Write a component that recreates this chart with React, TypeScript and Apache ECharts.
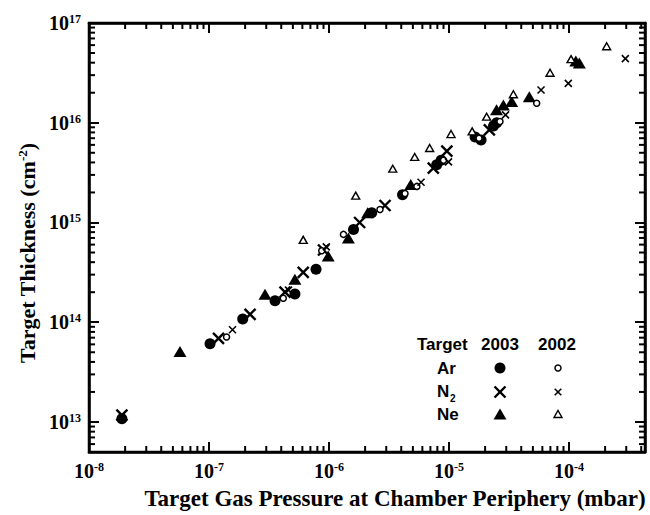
import React, { useEffect, useRef } from 'react';
import * as echarts from 'echarts';

// Axis ranges
const X_MIN = 1e-8;
const X_MAX = 4.3e-4;
const Y_MIN = 5e12;
const Y_MAX = 1e17;

// [pressure (mbar), thickness (cm^-2)]
const ar2003: [number, number][] = [
  [1.88e-8, 1.08e13], [1.02e-7, 6.1e13], [1.91e-7, 1.08e14], [3.55e-7, 1.64e14],
  [5.2e-7, 1.92e14], [7.8e-7, 3.4e14], [1.6e-6, 8.5e14], [2.27e-6, 1.25e15],
  [4.1e-6, 1.9e15], [7.9e-6, 3.8e15], [8.6e-6, 4.2e15], [1.65e-5, 7.2e15],
  [1.85e-5, 6.7e15], [2.35e-5, 9.3e15], [2.5e-5, 1.0e16],
];
const ar2002: [number, number][] = [
  [1.4e-7, 7.1e13], [4.16e-7, 1.74e14], [8.7e-7, 5.2e14], [1.32e-6, 7.6e14],
  [2.66e-6, 1.35e15], [4.3e-6, 1.95e15], [5.4e-6, 2.3e15], [9.0e-6, 4.2e15],
  [1.78e-5, 7.0e15], [2.66e-5, 1.03e16], [5.38e-5, 1.57e16],
];
const n22003: [number, number][] = [
  [1.88e-8, 1.17e13], [1.2e-7, 6.9e13], [2.2e-7, 1.2e14], [4.3e-7, 2.0e14],
  [6.1e-7, 3.16e14], [9.0e-7, 5.3e14], [1.8e-6, 1.0e15], [2.93e-6, 1.48e15],
  [7.4e-6, 3.5e15], [9.6e-6, 5.2e15], [2.17e-5, 8.5e15],
];
const n22002: [number, number][] = [
  [1.57e-7, 8.4e13], [4.6e-7, 2.1e14], [9.5e-7, 5.7e14], [5.85e-6, 2.53e15],
  [9.9e-6, 4.05e15], [2.96e-5, 1.2e16], [5.85e-5, 2.13e16], [9.87e-5, 2.48e16],
  [2.95e-4, 4.4e16],
];
const ne2003: [number, number][] = [
  [5.73e-8, 5.1e13], [2.93e-7, 1.91e14], [5.2e-7, 2.7e14], [9.85e-7, 4.6e14],
  [1.45e-6, 7.0e14], [2.1e-6, 1.25e15], [4.8e-6, 2.4e15], [2.49e-5, 1.35e16],
  [2.84e-5, 1.51e16], [3.33e-5, 1.63e16], [4.67e-5, 1.82e16], [1.14e-4, 4.17e16],
  [1.22e-4, 3.98e16],
];
const ne2002: [number, number][] = [
  [6.1e-7, 6.7e14], [1.67e-6, 1.86e15], [3.4e-6, 3.46e15], [5.18e-6, 4.54e15],
  [6.9e-6, 5.58e15], [1.04e-5, 7.7e15], [1.56e-5, 8.2e15], [2.06e-5, 1.15e16],
  [3.44e-5, 1.93e16], [6.95e-5, 3.17e16], [1.04e-4, 4.34e16], [2.06e-4, 5.85e16],
];

const X_DECADES = [-8, -7, -6, -5, -4];
const Y_DECADES = [12, 13, 14, 15, 16];
const MINOR_MULTS = [2, 3, 4, 5, 6, 7, 8, 9];

const SERIF = '"Liberation Serif", "Times New Roman", serif';
const SANS = '"Liberation Sans", Arial, sans-serif';

function powLabel(v: number): string {
  const l = Math.log10(v);
  const r = Math.round(l);
  if (Math.abs(l - r) > 1e-6) return '';
  return '{b|10}{s|' + r + '}';
}

const labelRich = {
  b: { fontSize: 20, fontWeight: 'bold', fontFamily: SERIF, color: '#000' },
  s: { fontSize: 12, fontWeight: 'bold', fontFamily: SERIF, color: '#000', verticalAlign: 'top' },
};

const majorTick = { show: true, inside: true, length: 10, lineStyle: { color: '#000', width: 2 } };
const frameLine = { show: true, onZero: false, lineStyle: { color: '#000', width: 2.5 } };

const XPATH = 'path://M0,0L12,12M12,0L0,12';

const GRID = { left: 89, right: 5, top: 23, bottom: 63 };

export default function App() {
  const ref = useRef<HTMLDivElement>(null);
  useEffect(() => {
    if (!ref.current) return;
    const chart = echarts.init(ref.current, undefined, { renderer: 'svg' });
    const legendFont = 'bold 17px ' + SANS;
    const xBase = {
      type: 'log', logBase: 10, min: X_MIN, max: X_MAX,
      axisLine: frameLine, splitLine: { show: false }, axisTick: majorTick,
    };
    const yBase = {
      type: 'log', logBase: 10, min: Y_MIN, max: Y_MAX,
      axisLine: frameLine, splitLine: { show: false }, axisTick: majorTick,
    };
    const option: any = {
      animation: false,
      backgroundColor: '#fff',
      grid: { ...GRID, show: false },
      xAxis: [
        { ...xBase, position: 'bottom', axisLabel: { formatter: powLabel, rich: labelRich, margin: 9 } },
        { ...xBase, position: 'top', axisLabel: { show: false } },
      ],
      yAxis: [
        { ...yBase, position: 'left', axisLabel: { formatter: powLabel, rich: labelRich, margin: 8 } },
        { ...yBase, position: 'right', axisLabel: { show: false } },
      ],
      series: [
        {
          name: 'N2 2003', type: 'scatter', data: n22003, symbol: XPATH, symbolSize: 11,
          itemStyle: { color: '#000', borderColor: '#000', borderWidth: 2.4, opacity: 1 },
        },
        {
          name: 'Ne 2003', type: 'scatter', data: ne2003, symbol: 'triangle', symbolSize: [13, 11],
          itemStyle: { color: '#000', opacity: 1 },
        },
        {
          name: 'Ar 2003', type: 'scatter', data: ar2003, symbol: 'circle', symbolSize: 11,
          itemStyle: { color: '#000', opacity: 1 },
        },
        {
          name: 'Ar 2002', type: 'scatter', data: ar2002, symbol: 'circle', symbolSize: 6,
          itemStyle: { color: '#fff', borderColor: '#000', borderWidth: 1.5, opacity: 1 },
        },
        {
          name: 'N2 2002', type: 'scatter', data: n22002, symbol: XPATH, symbolSize: 7,
          itemStyle: { color: '#000', borderColor: '#000', borderWidth: 1.6, opacity: 1 },
        },
        {
          name: 'Ne 2002', type: 'scatter', data: ne2002, symbol: 'triangle', symbolSize: [8, 7],
          itemStyle: { color: '#fff', borderColor: '#000', borderWidth: 1.4, opacity: 1 },
        },
      ],
    };
    chart.setOption(option);

    // plot frame and minor ticks (2..9 x 10^n), positions from the chart's own log axes
    const rect = { x: GRID.left, y: GRID.top, w: 650 - GRID.left - GRID.right, h: 515 - GRID.top - GRID.bottom };
    const minor: any[] = [];
    const len = 6;
    for (const e of X_DECADES) {
      for (const m of MINOR_MULTS) {
        const v = m * Math.pow(10, e);
        if (v >= X_MAX) continue;
        const px = Number(chart.convertToPixel({ xAxisIndex: 0 } as any, v));
        if (!isFinite(px)) continue;
        minor.push({ type: 'rect', z: 100, shape: { x: px - 1, y: rect.y + rect.h - len, width: 2, height: len }, style: { fill: '#000' } });
        minor.push({ type: 'rect', z: 100, shape: { x: px - 1, y: rect.y, width: 2, height: len }, style: { fill: '#000' } });
      }
    }
    for (const e of Y_DECADES) {
      for (const m of MINOR_MULTS) {
        const v = m * Math.pow(10, e);
        if (v <= Y_MIN || v >= Y_MAX) continue;
        const py = Number(chart.convertToPixel({ yAxisIndex: 0 } as any, v));
        if (!isFinite(py)) continue;
        minor.push({ type: 'rect', z: 100, shape: { x: rect.x, y: py - 1, width: len, height: 2 }, style: { fill: '#000' } });
        minor.push({ type: 'rect', z: 100, shape: { x: rect.x + rect.w - len, y: py - 1, width: len, height: 2 }, style: { fill: '#000' } });
      }
    }

    const graphics: any[] = [
      {
        type: 'rect', z: 100, silent: true,
        shape: { x: rect.x, y: rect.y, width: rect.w, height: rect.h },
        style: { fill: 'none', stroke: '#000', lineWidth: 2.5 },
      },
      {
        type: 'text', x: 27, y: 253, rotation: Math.PI / 2,
        style: {
          text: '{t|Target Thickness (cm}{s|-2}{t|)}',
          textAlign: 'center', textVerticalAlign: 'middle',
          rich: {
            t: { fontSize: 22, fontWeight: 'bold', fontFamily: SERIF, fill: '#000' },
            s: { fontSize: 13, fontWeight: 'bold', fontFamily: SERIF, fill: '#000', verticalAlign: 'top' },
          },
        },
      },
      {
        type: 'text', x: 395, y: 498,
        style: {
          text: 'Target Gas Pressure at Chamber Periphery (mbar)',
          font: 'bold 23px ' + SERIF, fill: '#000',
          textAlign: 'center', textVerticalAlign: 'middle',
        },
      },
      { type: 'text', x: 417, y: 344, style: { text: 'Target', font: legendFont, fill: '#000', textAlign: 'left', textVerticalAlign: 'middle' } },
      { type: 'text', x: 500, y: 344, style: { text: '2003', font: legendFont, fill: '#000', textAlign: 'center', textVerticalAlign: 'middle' } },
      { type: 'text', x: 557, y: 344, style: { text: '2002', font: legendFont, fill: '#000', textAlign: 'center', textVerticalAlign: 'middle' } },
      { type: 'text', x: 437, y: 368, style: { text: 'Ar', font: legendFont, fill: '#000', textAlign: 'left', textVerticalAlign: 'middle' } },
      { type: 'text', x: 437, y: 391, style: { text: 'N', font: legendFont, fill: '#000', textAlign: 'left', textVerticalAlign: 'middle' } },
      { type: 'text', x: 450, y: 398, style: { text: '2', font: 'bold 10px ' + SANS, fill: '#000', textAlign: 'left', textVerticalAlign: 'middle' } },
      { type: 'text', x: 437, y: 414, style: { text: 'Ne', font: legendFont, fill: '#000', textAlign: 'left', textVerticalAlign: 'middle' } },
      { type: 'circle', shape: { cx: 500, cy: 368, r: 5.5 }, style: { fill: '#000' } },
      { type: 'circle', shape: { cx: 558, cy: 368, r: 3 }, style: { fill: '#fff', stroke: '#000', lineWidth: 1.5 } },
      { type: 'line', shape: { x1: 494.5, y1: 386.5, x2: 505.5, y2: 397.5 }, style: { stroke: '#000', lineWidth: 2.4 } },
      { type: 'line', shape: { x1: 505.5, y1: 386.5, x2: 494.5, y2: 397.5 }, style: { stroke: '#000', lineWidth: 2.4 } },
      { type: 'line', shape: { x1: 554.7, y1: 388.7, x2: 561.3, y2: 395.3 }, style: { stroke: '#000', lineWidth: 1.6 } },
      { type: 'line', shape: { x1: 561.3, y1: 388.7, x2: 554.7, y2: 395.3 }, style: { stroke: '#000', lineWidth: 1.6 } },
      { type: 'polygon', shape: { points: [[493.5, 419.5], [506.5, 419.5], [500, 408.5]] }, style: { fill: '#000' } },
      { type: 'polygon', shape: { points: [[554, 417.5], [562, 417.5], [558, 410.5]] }, style: { fill: '#fff', stroke: '#000', lineWidth: 1.4 } },
      ...minor,
    ];
    chart.setOption({ graphic: graphics });
    return () => chart.dispose();
  }, []);
  return <div ref={ref} style={{ position: 'absolute', left: 0, top: 0, width: 650, height: 515 }} />;
}
